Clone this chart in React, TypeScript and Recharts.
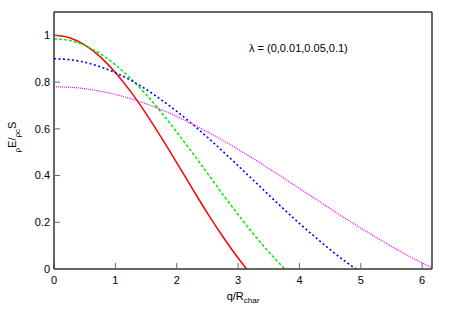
import { LineChart, Line, XAxis, YAxis } from "recharts";

// values
const qRed = [0, 0.25, 0.5, 0.75, 1, 1.25, 1.5, 1.75, 2, 2.25, 2.5, 2.75, 3, 3.14];
const rhoRed = [1, 0.99, 0.959, 0.909, 0.841, 0.759, 0.665, 0.562, 0.455, 0.346, 0.239, 0.139, 0.047, 0];

const qGreen = [0, 0.25, 0.5, 0.75, 1, 1.25, 1.5, 1.75, 2, 2.25, 2.5, 2.75, 3, 3.25, 3.5, 3.76];
const rhoGreen = [0.985, 0.978, 0.957, 0.922, 0.874, 0.815, 0.747, 0.67, 0.586, 0.499, 0.41, 0.32, 0.233, 0.15, 0.073, 0];

const qBlue = [0, 0.25, 0.5, 0.75, 1, 1.25, 1.5, 1.75, 2, 2.25, 2.5, 2.75, 3, 3.25, 3.5, 3.75, 4, 4.25, 4.5, 4.75, 4.92];
const rhoBlue = [0.9, 0.896, 0.885, 0.866, 0.84, 0.808, 0.769, 0.724, 0.675, 0.621, 0.564, 0.504, 0.442, 0.38, 0.317, 0.255, 0.195, 0.138, 0.083, 0.032, 0];

const qMagenta = [0, 0.25, 0.5, 0.75, 1, 1.25, 1.5, 1.75, 2, 2.25, 2.5, 2.75, 3, 3.25, 3.5, 3.75, 4, 4.25, 4.5, 4.75, 5, 5.25, 5.5, 5.75, 6, 6.16];
const rhoMagenta = [0.78, 0.778, 0.772, 0.761, 0.747, 0.729, 0.707, 0.682, 0.653, 0.621, 0.587, 0.551, 0.512, 0.472, 0.43, 0.388, 0.345, 0.302, 0.259, 0.216, 0.175, 0.136, 0.097, 0.06, 0.026, 0.005];

const xTicks = [0, 1, 2, 3, 4, 5, 6];
const yTicks = [0, 0.2, 0.4, 0.6, 0.8, 1];

const W = 452;
const H = 316;
const FONT = "Liberation Sans, Arial, sans-serif";
const BORDER = "#333";
const TICK = "#666";

const toPoints = (q: number[], rho: number[]) => q.map((x, i) => ({ q: x, rho: rho[i] }));

const tickStyle = { fontSize: 11, fontFamily: FONT, fill: "#000" };

export default function App() {
  return (
    <div style={{ position: "absolute", left: 0, top: 0, width: W, height: H, background: "#fff" }}>
      <LineChart width={W} height={H} margin={{ top: 11, right: 19, bottom: 0, left: 0 }}>
        <XAxis
          xAxisId="b"
          dataKey="q"
          type="number"
          domain={[0, 6.16]}
          ticks={xTicks}
          allowDataOverflow
          height={47}
          tickSize={-6}
          tickMargin={13}
          tick={tickStyle}
          tickLine={{ stroke: TICK }}
          axisLine={{ stroke: BORDER, strokeWidth: 1.5 }}
        />
        {/* mirror axes only draw the top / right border and inner ticks */}
        <XAxis
          xAxisId="t"
          orientation="top"
          dataKey="q"
          type="number"
          domain={[0, 6.16]}
          ticks={xTicks}
          allowDataOverflow
          height={1}
          tickSize={-6}
          tick={false}
          tickLine={{ stroke: TICK }}
          axisLine={{ stroke: BORDER, strokeWidth: 1.5 }}
        />
        <YAxis
          yAxisId="l"
          type="number"
          domain={[0, 1.1]}
          ticks={yTicks}
          allowDataOverflow
          width={54}
          tickSize={-6}
          tickMargin={10}
          tick={tickStyle}
          tickLine={{ stroke: TICK }}
          axisLine={{ stroke: BORDER, strokeWidth: 1.5 }}
        />
        <YAxis
          yAxisId="r"
          orientation="right"
          type="number"
          domain={[0, 1.1]}
          ticks={yTicks}
          allowDataOverflow
          width={1}
          tickSize={-6}
          tick={false}
          tickLine={{ stroke: TICK }}
          axisLine={{ stroke: BORDER, strokeWidth: 1.5 }}
        />
        <Line xAxisId="b" yAxisId="l" data={toPoints(qRed, rhoRed)} dataKey="rho" type="monotone"
          stroke="#ff0000" strokeWidth={1.5} dot={false} isAnimationActive={false} />
        <Line xAxisId="b" yAxisId="l" data={toPoints(qGreen, rhoGreen)} dataKey="rho" type="monotone"
          stroke="#00ee00" strokeWidth={1.5} strokeDasharray="3 2" dot={false} isAnimationActive={false} />
        <Line xAxisId="b" yAxisId="l" data={toPoints(qBlue, rhoBlue)} dataKey="rho" type="monotone"
          stroke="#0000ff" strokeWidth={1.6} strokeDasharray="2 2.5" dot={false} isAnimationActive={false} />
        <Line xAxisId="b" yAxisId="l" data={toPoints(qMagenta, rhoMagenta)} dataKey="rho" type="monotone"
          stroke="#ff00ff" strokeWidth={1.2} strokeDasharray="1 1" dot={false} isAnimationActive={false} />
      </LineChart>

      {/* axis titles and the lambda note */}
      <svg width={W} height={H} style={{ position: "absolute", left: 0, top: 0, pointerEvents: "none" }}>
        <text x={243} y={300} textAnchor="middle" fontSize={11} fontFamily={FONT} fill="#000">
          q/R<tspan fontSize={8} dy={3}>char</tspan>
        </text>
        <text x={16} y={137} transform="rotate(-90 16 137)" textAnchor="middle" fontSize={11} fontFamily={FONT} fill="#000">
          <tspan fontSize={8} dy={4}>ρ</tspan>
          <tspan dy={-4}>E</tspan>
          <tspan>/</tspan>
          <tspan fontSize={8} dy={4}>ρc</tspan>
          <tspan dy={-4}>S</tspan>
        </text>
        <text x={249} y={51.5} fontSize={11} fontFamily={FONT} fill="#000">
          λ = (0,0.01,0.05,0.1)
        </text>
      </svg>
    </div>
  );
}
